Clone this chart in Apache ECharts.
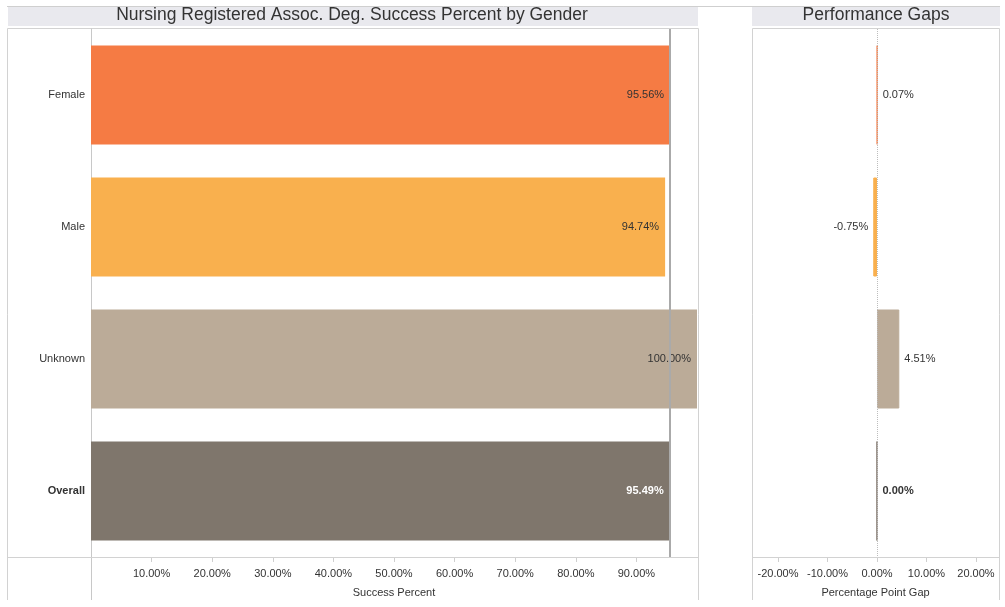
<!DOCTYPE html>
<html>
<head>
<meta charset="utf-8">
<script src="https://cdn.jsdelivr.net/npm/echarts@6/dist/echarts.min.js"></script>
<style>
  html, body { margin: 0; padding: 0; background: #fff; }
  #chart { width: 1005px; height: 607px; }
</style>
</head>
<body>
<div id="chart"></div>
<script>
// data
const categories = ['Female', 'Male', 'Unknown', 'Overall']
const successPct = [95.56, 94.74, 100.00, 95.49]
const gapPct = [0.07, -0.75, 4.51, 0.00]
const overallRef = 95.49
const successTicks = [10, 20, 30, 40, 50, 60, 70, 80, 90]
const gapTicks = [-20, -10, 0, 10, 20]

const barColors = ['#f57b44', '#f9b04e', '#bbab98', '#7f766c']
const font = '"Liberation Sans", Arial, sans-serif'
const frame = '#d2d2d2'

const pct = v => v.toFixed(2) + '%'

function line(x1, y1, x2, y2, color) {
  return { type: 'line', shape: { x1, y1, x2, y2 }, style: { stroke: color || frame, lineWidth: 1 }, silent: true, z: 1 }
}

const chart = echarts.init(document.getElementById('chart'))
chart.setOption({
  backgroundColor: '#fff',
  textStyle: { fontFamily: font },
  animation: false,
  graphic: [
    line(7, 6.5, 1000, 6.5, '#cfcfcf'),
    { type: 'rect', shape: { x: 8, y: 7, width: 690, height: 19 }, style: { fill: '#e9e9ee' }, silent: true },
    { type: 'rect', shape: { x: 752, y: 7, width: 248, height: 19 }, style: { fill: '#e9e9ee' }, silent: true },
    // left panel frame
    line(7.5, 28.5, 698.5, 28.5),
    line(7.5, 28.5, 7.5, 600),
    line(698.5, 28.5, 698.5, 600),
    line(91.5, 28.5, 91.5, 600, '#c8c8c8'),
    line(7.5, 557.5, 698.5, 557.5),
    // right panel frame
    line(752.5, 28.5, 999.5, 28.5),
    line(752.5, 28.5, 752.5, 600),
    line(999.5, 28.5, 999.5, 600),
    line(752.5, 557.5, 999.5, 557.5)
  ],
  title: [
    {
      text: 'Nursing Registered Assoc. Deg. Success Percent by Gender',
      left: 352, top: 6, padding: 0, textAlign: 'center',
      textStyle: { fontSize: 17.5, fontWeight: 'normal', color: '#333', fontFamily: font }
    },
    {
      text: 'Performance Gaps',
      left: 876, top: 6, padding: 0, textAlign: 'center',
      textStyle: { fontSize: 17.5, fontWeight: 'normal', color: '#333', fontFamily: font }
    }
  ],
  grid: [
    { left: 91, top: 29, width: 606, bottom: 50 },
    { left: 752, top: 29, width: 247, bottom: 50 }
  ],
  xAxis: [
    {
      gridIndex: 0, type: 'value', min: 0, max: 100, interval: 10,
      axisLine: { show: false },
      splitLine: { show: false },
      axisTick: { show: true, length: 5, lineStyle: { color: '#cfcfcf' }, customValues: successTicks },
      axisLabel: { fontSize: 11, color: '#333', margin: 11, customValues: successTicks, formatter: v => pct(v) },
      name: 'Success Percent', nameLocation: 'middle', nameGap: 30,
      nameTextStyle: { fontSize: 11, color: '#333' }
    },
    {
      gridIndex: 1, type: 'value', min: -25.25, max: 24.65,
      axisLine: { show: false },
      splitLine: { show: false },
      axisTick: { show: true, length: 5, lineStyle: { color: '#cfcfcf' }, customValues: gapTicks },
      axisLabel: { fontSize: 11, color: '#333', margin: 11, customValues: gapTicks, formatter: v => pct(v) },
      name: 'Percentage Point Gap', nameLocation: 'middle', nameGap: 30,
      nameTextStyle: { fontSize: 11, color: '#333' }
    }
  ],
  yAxis: [
    {
      gridIndex: 0, type: 'category', inverse: true, data: categories,
      axisLine: { show: false }, axisTick: { show: false },
      axisLabel: {
        fontSize: 11, color: '#333', margin: 6,
        formatter: v => v === 'Overall' ? '{b|' + v + '}' : v,
        rich: { b: { fontWeight: 'bold', fontSize: 11, color: '#333' } }
      }
    },
    {
      gridIndex: 1, type: 'category', inverse: true, data: categories,
      axisLine: { show: false }, axisTick: { show: false }, axisLabel: { show: false }
    }
  ],
  series: [
    {
      name: 'Success Percent', type: 'bar', xAxisIndex: 0, yAxisIndex: 0,
      barWidth: '75%',
      data: successPct.map((v, i) => ({
        value: v,
        itemStyle: { color: barColors[i] },
        label: categories[i] === 'Overall' ? { color: '#fff', fontWeight: 'bold' } : {}
      })),
      label: {
        show: true, position: 'insideRight', distance: 6,
        fontSize: 11, color: '#333', formatter: p => pct(p.value)
      },
      markLine: {
        silent: true, symbol: 'none', label: { show: false },
        lineStyle: { color: '#aaaaaa', width: 2, type: 'solid' },
        data: [{ xAxis: overallRef }]
      },
      z: 2
    },
    {
      name: 'Gap', type: 'bar', xAxisIndex: 1, yAxisIndex: 1,
      barWidth: '75%',
      data: gapPct.map((v, i) => ({
        value: v,
        itemStyle: { color: barColors[i], borderColor: barColors[i], borderWidth: 1 },
        label: Object.assign(
          { position: v < 0 ? 'left' : 'right' },
          categories[i] === 'Overall' ? { fontWeight: 'bold' } : {}
        )
      })),
      label: {
        show: true, distance: 5,
        fontSize: 11, color: '#333', formatter: p => pct(p.value)
      },
      markLine: {
        silent: true, symbol: 'none', label: { show: false },
        lineStyle: { color: '#bdbdbd', width: 1, type: 'dotted' },
        data: [{ xAxis: 0 }]
      },
      z: 2
    }
  ]
})
</script>
</body>
</html>
